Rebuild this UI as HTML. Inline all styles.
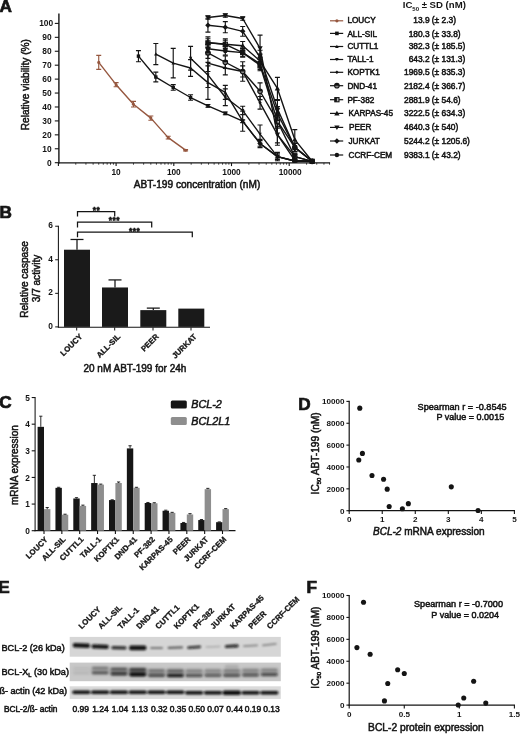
<!DOCTYPE html>
<html lang="en"><head><meta charset="utf-8"><title>ABT-199 sensitivity and BCL-2 expression in T-ALL cell lines</title>
<style>html,body{margin:0;padding:0;background:#fff}body{width:520px;height:734px;overflow:hidden}svg{display:block;font-family:"Liberation Sans", Arial, Helvetica, sans-serif}.pl{stroke:#141414;stroke-width:.7px}.rb{stroke:#141414;stroke-width:.3px}.tk{stroke:#141414;stroke-width:.28px}.ax{stroke:#141414;stroke-width:.5px}.lg{stroke:#141414;stroke-width:.5px}</style></head><body>
<svg width="520" height="734" viewBox="0 0 520 734">
<defs><filter id="blur" x="-5%" y="-50%" width="110%" height="200%"><feGaussianBlur stdDeviation="0.85"/></filter><filter id="blur2" x="-5%" y="-60%" width="110%" height="220%"><feGaussianBlur stdDeviation="1.6"/></filter></defs>
<rect width="520" height="734" fill="#fff"/>
<g id="panelA">
<text x="-0.5" y="12.4" font-size="17.2" text-anchor="start" font-weight="bold" fill="#141414" class="pl">A</text>
<line x1="58.9" y1="13.5" x2="58.9" y2="163.5" stroke="#141414" stroke-width="1.4" />
<line x1="58.2" y1="162.9" x2="330.1" y2="162.9" stroke="#141414" stroke-width="1.4" />
<line x1="54.8" y1="162.7" x2="58.9" y2="162.7" stroke="#141414" stroke-width="1.1" />
<text x="51.6" y="165.7" font-size="8.4" text-anchor="end" font-weight="bold" fill="#141414" >0</text>
<line x1="54.8" y1="148.77" x2="58.9" y2="148.77" stroke="#141414" stroke-width="1.1" />
<text x="51.6" y="151.77" font-size="8.4" text-anchor="end" font-weight="bold" fill="#141414" >10</text>
<line x1="54.8" y1="134.84" x2="58.9" y2="134.84" stroke="#141414" stroke-width="1.1" />
<text x="51.6" y="137.84" font-size="8.4" text-anchor="end" font-weight="bold" fill="#141414" >20</text>
<line x1="54.8" y1="120.91" x2="58.9" y2="120.91" stroke="#141414" stroke-width="1.1" />
<text x="51.6" y="123.91" font-size="8.4" text-anchor="end" font-weight="bold" fill="#141414" >30</text>
<line x1="54.8" y1="106.98" x2="58.9" y2="106.98" stroke="#141414" stroke-width="1.1" />
<text x="51.6" y="109.98" font-size="8.4" text-anchor="end" font-weight="bold" fill="#141414" >40</text>
<line x1="54.8" y1="93.05" x2="58.9" y2="93.05" stroke="#141414" stroke-width="1.1" />
<text x="51.6" y="96.05" font-size="8.4" text-anchor="end" font-weight="bold" fill="#141414" >50</text>
<line x1="54.8" y1="79.12" x2="58.9" y2="79.12" stroke="#141414" stroke-width="1.1" />
<text x="51.6" y="82.12" font-size="8.4" text-anchor="end" font-weight="bold" fill="#141414" >60</text>
<line x1="54.8" y1="65.19" x2="58.9" y2="65.19" stroke="#141414" stroke-width="1.1" />
<text x="51.6" y="68.19" font-size="8.4" text-anchor="end" font-weight="bold" fill="#141414" >70</text>
<line x1="54.8" y1="51.26" x2="58.9" y2="51.26" stroke="#141414" stroke-width="1.1" />
<text x="51.6" y="54.26" font-size="8.4" text-anchor="end" font-weight="bold" fill="#141414" >80</text>
<line x1="54.8" y1="37.33" x2="58.9" y2="37.33" stroke="#141414" stroke-width="1.1" />
<text x="51.6" y="40.33" font-size="8.4" text-anchor="end" font-weight="bold" fill="#141414" >90</text>
<line x1="54.8" y1="23.4" x2="58.9" y2="23.4" stroke="#141414" stroke-width="1.1" />
<text x="53.2" y="26.4" font-size="8.4" text-anchor="end" font-weight="bold" fill="#141414" >100</text>
<line x1="58.4" y1="162.9" x2="58.4" y2="166.1" stroke="#141414" stroke-width="1.1" />
<line x1="75.77" y1="162.9" x2="75.77" y2="164.7" stroke="#141414" stroke-width="0.8" />
<line x1="85.93" y1="162.9" x2="85.93" y2="164.7" stroke="#141414" stroke-width="0.8" />
<line x1="93.14" y1="162.9" x2="93.14" y2="164.7" stroke="#141414" stroke-width="0.8" />
<line x1="98.73" y1="162.9" x2="98.73" y2="164.7" stroke="#141414" stroke-width="0.8" />
<line x1="103.3" y1="162.9" x2="103.3" y2="164.7" stroke="#141414" stroke-width="0.8" />
<line x1="107.16" y1="162.9" x2="107.16" y2="164.7" stroke="#141414" stroke-width="0.8" />
<line x1="110.51" y1="162.9" x2="110.51" y2="164.7" stroke="#141414" stroke-width="0.8" />
<line x1="113.46" y1="162.9" x2="113.46" y2="164.7" stroke="#141414" stroke-width="0.8" />
<line x1="116.1" y1="162.9" x2="116.1" y2="166.1" stroke="#141414" stroke-width="1.1" />
<line x1="133.47" y1="162.9" x2="133.47" y2="164.7" stroke="#141414" stroke-width="0.8" />
<line x1="143.63" y1="162.9" x2="143.63" y2="164.7" stroke="#141414" stroke-width="0.8" />
<line x1="150.84" y1="162.9" x2="150.84" y2="164.7" stroke="#141414" stroke-width="0.8" />
<line x1="156.43" y1="162.9" x2="156.43" y2="164.7" stroke="#141414" stroke-width="0.8" />
<line x1="161" y1="162.9" x2="161" y2="164.7" stroke="#141414" stroke-width="0.8" />
<line x1="164.86" y1="162.9" x2="164.86" y2="164.7" stroke="#141414" stroke-width="0.8" />
<line x1="168.21" y1="162.9" x2="168.21" y2="164.7" stroke="#141414" stroke-width="0.8" />
<line x1="171.16" y1="162.9" x2="171.16" y2="164.7" stroke="#141414" stroke-width="0.8" />
<line x1="173.8" y1="162.9" x2="173.8" y2="166.1" stroke="#141414" stroke-width="1.1" />
<line x1="191.17" y1="162.9" x2="191.17" y2="164.7" stroke="#141414" stroke-width="0.8" />
<line x1="201.33" y1="162.9" x2="201.33" y2="164.7" stroke="#141414" stroke-width="0.8" />
<line x1="208.54" y1="162.9" x2="208.54" y2="164.7" stroke="#141414" stroke-width="0.8" />
<line x1="214.13" y1="162.9" x2="214.13" y2="164.7" stroke="#141414" stroke-width="0.8" />
<line x1="218.7" y1="162.9" x2="218.7" y2="164.7" stroke="#141414" stroke-width="0.8" />
<line x1="222.56" y1="162.9" x2="222.56" y2="164.7" stroke="#141414" stroke-width="0.8" />
<line x1="225.91" y1="162.9" x2="225.91" y2="164.7" stroke="#141414" stroke-width="0.8" />
<line x1="228.86" y1="162.9" x2="228.86" y2="164.7" stroke="#141414" stroke-width="0.8" />
<line x1="231.5" y1="162.9" x2="231.5" y2="166.1" stroke="#141414" stroke-width="1.1" />
<line x1="248.87" y1="162.9" x2="248.87" y2="164.7" stroke="#141414" stroke-width="0.8" />
<line x1="259.03" y1="162.9" x2="259.03" y2="164.7" stroke="#141414" stroke-width="0.8" />
<line x1="266.24" y1="162.9" x2="266.24" y2="164.7" stroke="#141414" stroke-width="0.8" />
<line x1="271.83" y1="162.9" x2="271.83" y2="164.7" stroke="#141414" stroke-width="0.8" />
<line x1="276.4" y1="162.9" x2="276.4" y2="164.7" stroke="#141414" stroke-width="0.8" />
<line x1="280.26" y1="162.9" x2="280.26" y2="164.7" stroke="#141414" stroke-width="0.8" />
<line x1="283.61" y1="162.9" x2="283.61" y2="164.7" stroke="#141414" stroke-width="0.8" />
<line x1="286.56" y1="162.9" x2="286.56" y2="164.7" stroke="#141414" stroke-width="0.8" />
<line x1="289.2" y1="162.9" x2="289.2" y2="166.1" stroke="#141414" stroke-width="1.1" />
<line x1="306.57" y1="162.9" x2="306.57" y2="164.7" stroke="#141414" stroke-width="0.8" />
<line x1="316.73" y1="162.9" x2="316.73" y2="164.7" stroke="#141414" stroke-width="0.8" />
<line x1="323.94" y1="162.9" x2="323.94" y2="164.7" stroke="#141414" stroke-width="0.8" />
<line x1="329.53" y1="162.9" x2="329.53" y2="164.7" stroke="#141414" stroke-width="0.8" />
<text x="116.1" y="175" font-size="8.3" text-anchor="middle" font-weight="bold" fill="#141414" >10</text>
<text x="173.8" y="175" font-size="8.3" text-anchor="middle" font-weight="bold" fill="#141414" >100</text>
<text x="231.5" y="175" font-size="8.3" text-anchor="middle" font-weight="bold" fill="#141414" >1000</text>
<text x="290.2" y="175" font-size="8.3" text-anchor="middle" font-weight="bold" fill="#141414" >10000</text>
<text x="197" y="187.8" font-size="10.15" text-anchor="middle" font-weight="normal" fill="#141414" class="ax">ABT-199 concentration (nM)</text>
<text transform="translate(28.7 84.7) rotate(-90)" font-size="10.15" text-anchor="middle" font-weight="normal" fill="#141414" class="ax">Relative viability (%)</text>
<path d="M98.73 55.44V69.37M96.23 55.44H101.23M96.23 69.37H101.23M116.1 82.6V86.78M113.6 82.6H118.6M113.6 86.78H118.6M133.47 101.41V106.98M130.97 101.41H135.97M130.97 106.98H135.97M150.84 116.03V120.21M148.34 116.03H153.34M148.34 120.21H153.34M168.21 136.23V139.02M165.71 136.23H170.71M165.71 139.02H170.71M185.58 149.47V150.86M183.08 149.47H188.08M183.08 150.86H188.08" stroke="#96573f" stroke-width="1.15" fill="none"/>
<polyline points="98.73,62.4 116.1,84.69 133.47,104.19 150.84,118.12 168.21,137.63 185.58,150.16" fill="none" stroke="#96573f" stroke-width="1.4" stroke-linejoin="round"/>
<circle cx="98.73" cy="62.4" r="1.53" fill="#96573f"/>
<circle cx="116.1" cy="84.69" r="1.53" fill="#96573f"/>
<circle cx="133.47" cy="104.19" r="1.53" fill="#96573f"/>
<circle cx="150.84" cy="118.12" r="1.53" fill="#96573f"/>
<circle cx="168.21" cy="137.63" r="1.53" fill="#96573f"/>
<circle cx="185.58" cy="150.16" r="1.53" fill="#96573f"/>
<path d="M138.45 50.56V61.71M135.95 50.56H140.95M135.95 61.71H140.95M155.82 72.15V81.91M153.32 72.15H158.32M153.32 81.91H158.32M173.22 84.69V90.26M170.72 84.69H175.72M170.72 90.26H175.72M190.57 94.72V100.29M188.07 94.72H193.07M188.07 100.29H193.07M207.94 104.47V107.26M205.44 104.47H210.44M205.44 107.26H210.44M225.31 111.99V114.78M222.81 111.99H227.81M222.81 114.78H227.81M242.68 119.8V122.58M240.18 119.8H245.18M240.18 122.58H245.18M260.05 140.69V146.26M257.55 140.69H262.55M257.55 146.26H262.55M277.42 155.18V157.96M274.92 155.18H279.92M274.92 157.96H279.92M294.79 160.33V161.72M292.29 160.33H297.29M292.29 161.72H297.29" stroke="#141414" stroke-width="1.15" fill="none"/>
<polyline points="138.45,56.14 155.82,77.03 173.22,87.48 190.57,97.51 207.94,105.87 225.31,113.39 242.68,121.19 260.05,143.48 277.42,156.57 294.79,161.03 312.16,161.31" fill="none" stroke="#141414" stroke-width="1.4" stroke-linejoin="round"/>
<rect x="136.74" y="54.43" width="3.42" height="3.42" fill="#141414"/>
<rect x="154.11" y="75.32" width="3.42" height="3.42" fill="#141414"/>
<rect x="171.51" y="85.77" width="3.42" height="3.42" fill="#141414"/>
<rect x="188.86" y="95.8" width="3.42" height="3.42" fill="#141414"/>
<rect x="206.23" y="104.16" width="3.42" height="3.42" fill="#141414"/>
<rect x="223.6" y="111.68" width="3.42" height="3.42" fill="#141414"/>
<rect x="240.97" y="119.48" width="3.42" height="3.42" fill="#141414"/>
<rect x="258.34" y="141.77" width="3.42" height="3.42" fill="#141414"/>
<rect x="275.71" y="154.86" width="3.42" height="3.42" fill="#141414"/>
<rect x="293.08" y="159.32" width="3.42" height="3.42" fill="#141414"/>
<rect x="310.45" y="159.6" width="3.42" height="3.42" fill="#141414"/>
<path d="M155.82 43.46V64.63M153.32 43.46H158.32M153.32 64.63H158.32M173.22 48.33V77.87M170.72 48.33H175.72M170.72 77.87H175.72M190.57 59.62V76.33M188.07 59.62H193.07M188.07 76.33H193.07M207.94 65.89V99.32M205.44 65.89H210.44M205.44 99.32H210.44M225.31 85.39V99.32M222.81 85.39H227.81M222.81 99.32H227.81M242.68 111.16V131.22M240.18 111.16H245.18M240.18 131.22H245.18M260.05 139.3V147.66M257.55 139.3H262.55M257.55 147.66H262.55M277.42 153.78V159.36M274.92 153.78H279.92M274.92 159.36H279.92M294.79 160.33V161.72M292.29 160.33H297.29M292.29 161.72H297.29" stroke="#141414" stroke-width="1.15" fill="none"/>
<polyline points="155.82,54.05 173.22,63.1 190.57,67.98 207.94,82.6 225.31,92.35 242.68,121.19 260.05,143.48 277.42,156.57 294.79,161.03 312.16,161.31" fill="none" stroke="#141414" stroke-width="1.4" stroke-linejoin="round"/>
<path d="M155.82 52.34L157.53 55.41L154.11 55.41Z" fill="#141414"/>
<path d="M173.22 61.39L174.93 64.47L171.51 64.47Z" fill="#141414"/>
<path d="M190.57 66.27L192.28 69.34L188.86 69.34Z" fill="#141414"/>
<path d="M207.94 80.89L209.65 83.97L206.23 83.97Z" fill="#141414"/>
<path d="M225.31 90.64L227.02 93.72L223.6 93.72Z" fill="#141414"/>
<path d="M242.68 119.48L244.39 122.56L240.97 122.56Z" fill="#141414"/>
<path d="M260.05 141.77L261.76 144.84L258.34 144.84Z" fill="#141414"/>
<path d="M277.42 154.86L279.13 157.94L275.71 157.94Z" fill="#141414"/>
<path d="M294.79 159.32L296.5 162.4L293.08 162.4Z" fill="#141414"/>
<path d="M312.16 159.6L313.87 162.67L310.45 162.67Z" fill="#141414"/>
<path d="M190.57 46.38V70.07M188.07 46.38H193.07M188.07 70.07H193.07M207.94 62.4V87.48M205.44 62.4H210.44M205.44 87.48H210.44M225.31 88.87V105.59M222.81 88.87H227.81M222.81 105.59H227.81M242.68 106.28V114.64M240.18 106.28H245.18M240.18 114.64H245.18M260.05 124.95V143.34M257.55 124.95H262.55M257.55 143.34H262.55M277.42 152.39V160.75M274.92 152.39H279.92M274.92 160.75H279.92M294.79 160.33V161.72M292.29 160.33H297.29M292.29 161.72H297.29" stroke="#141414" stroke-width="1.15" fill="none"/>
<polyline points="190.57,58.22 207.94,74.94 225.31,97.23 242.68,110.46 260.05,134.14 277.42,156.57 294.79,161.03 312.16,161.31" fill="none" stroke="#141414" stroke-width="1.4" stroke-linejoin="round"/>
<path d="M190.57 59.93L192.28 56.86L188.86 56.86Z" fill="#141414"/>
<path d="M207.94 76.65L209.65 73.57L206.23 73.57Z" fill="#141414"/>
<path d="M225.31 98.94L227.02 95.86L223.6 95.86Z" fill="#141414"/>
<path d="M242.68 112.17L244.39 109.09L240.97 109.09Z" fill="#141414"/>
<path d="M260.05 135.85L261.76 132.78L258.34 132.78Z" fill="#141414"/>
<path d="M277.42 158.28L279.13 155.2L275.71 155.2Z" fill="#141414"/>
<path d="M294.79 162.74L296.5 159.66L293.08 159.66Z" fill="#141414"/>
<path d="M312.16 163.02L313.87 159.94L310.45 159.94Z" fill="#141414"/>
<path d="M207.94 54.74V71.46M205.44 54.74H210.44M205.44 71.46H210.44M225.31 61.01V74.94M222.81 61.01H227.81M222.81 74.94H227.81M242.68 61.71V81.21M240.18 61.71H245.18M240.18 81.21H245.18M260.05 96.53V109.07M257.55 96.53H262.55M257.55 109.07H262.55M277.42 123.84V145.29M274.92 123.84H279.92M274.92 145.29H279.92M294.79 159.08V161.86M292.29 159.08H297.29M292.29 161.86H297.29" stroke="#141414" stroke-width="1.15" fill="none"/>
<polyline points="207.94,63.1 225.31,67.98 242.68,71.46 260.05,102.8 277.42,134.56 294.79,160.47 312.16,161.31" fill="none" stroke="#141414" stroke-width="1.4" stroke-linejoin="round"/>
<path d="M207.94 61.39L209.65 63.1L207.94 64.81L206.23 63.1Z" fill="#141414"/>
<path d="M225.31 66.27L227.02 67.98L225.31 69.69L223.6 67.98Z" fill="#141414"/>
<path d="M242.68 69.75L244.39 71.46L242.68 73.17L240.97 71.46Z" fill="#141414"/>
<path d="M260.05 101.09L261.76 102.8L260.05 104.51L258.34 102.8Z" fill="#141414"/>
<path d="M277.42 132.85L279.13 134.56L277.42 136.27L275.71 134.56Z" fill="#141414"/>
<path d="M294.79 158.76L296.5 160.47L294.79 162.18L293.08 160.47Z" fill="#141414"/>
<path d="M312.16 159.6L313.87 161.31L312.16 163.02L310.45 161.31Z" fill="#141414"/>
<path d="M207.94 47.22V58.36M205.44 47.22H210.44M205.44 58.36H210.44M225.31 56V68.53M222.81 56H227.81M222.81 68.53H227.81M242.68 65.89V77.03M240.18 65.89H245.18M240.18 77.03H245.18M260.05 82.88V99.6M257.55 82.88H262.55M257.55 99.6H262.55M277.42 114.22V128.15M274.92 114.22H279.92M274.92 128.15H279.92M294.79 143.2V151.56M292.29 143.2H297.29M292.29 151.56H297.29" stroke="#141414" stroke-width="1.15" fill="none"/>
<polyline points="207.94,52.79 225.31,62.26 242.68,71.46 260.05,91.24 277.42,121.19 294.79,147.38 312.16,161.31" fill="none" stroke="#141414" stroke-width="1.4" stroke-linejoin="round"/>
<circle cx="207.94" cy="52.79" r="2.28" fill="#8a8a8a" stroke="#141414" stroke-width="1.1"/>
<path d="M205.66 52.79A2.28 2.28 0 0 1 210.22 52.79Z" fill="#141414"/>
<circle cx="225.31" cy="62.26" r="2.28" fill="#8a8a8a" stroke="#141414" stroke-width="1.1"/>
<path d="M223.03 62.26A2.28 2.28 0 0 1 227.59 62.26Z" fill="#141414"/>
<circle cx="242.68" cy="71.46" r="2.28" fill="#8a8a8a" stroke="#141414" stroke-width="1.1"/>
<path d="M240.4 71.46A2.28 2.28 0 0 1 244.96 71.46Z" fill="#141414"/>
<circle cx="260.05" cy="91.24" r="2.28" fill="#8a8a8a" stroke="#141414" stroke-width="1.1"/>
<path d="M257.77 91.24A2.28 2.28 0 0 1 262.33 91.24Z" fill="#141414"/>
<circle cx="277.42" cy="121.19" r="2.28" fill="#8a8a8a" stroke="#141414" stroke-width="1.1"/>
<path d="M275.14 121.19A2.28 2.28 0 0 1 279.7 121.19Z" fill="#141414"/>
<circle cx="294.79" cy="147.38" r="2.28" fill="#8a8a8a" stroke="#141414" stroke-width="1.1"/>
<path d="M292.51 147.38A2.28 2.28 0 0 1 297.07 147.38Z" fill="#141414"/>
<circle cx="312.16" cy="161.31" r="2.28" fill="#8a8a8a" stroke="#141414" stroke-width="1.1"/>
<path d="M309.88 161.31A2.28 2.28 0 0 1 314.44 161.31Z" fill="#141414"/>
<path d="M207.94 38.72V47.08M205.44 38.72H210.44M205.44 47.08H210.44M225.31 40.12V48.47M222.81 40.12H227.81M222.81 48.47H227.81M242.68 48.47V56.83M240.18 48.47H245.18M240.18 56.83H245.18M260.05 59.62V70.76M257.55 59.62H262.55M257.55 70.76H262.55M277.42 115.62V126.76M274.92 115.62H279.92M274.92 126.76H279.92M294.79 153.78V159.36M292.29 153.78H297.29M292.29 159.36H297.29" stroke="#141414" stroke-width="1.15" fill="none"/>
<polyline points="207.94,42.9 225.31,44.29 242.68,52.65 260.05,65.19 277.42,121.19 294.79,156.57 312.16,161.31" fill="none" stroke="#141414" stroke-width="1.4" stroke-linejoin="round"/>
<rect x="205.85" y="40.81" width="4.18" height="4.18" fill="#b5b5b5" stroke="#141414" stroke-width="1.1"/>
<rect x="205.85" y="40.81" width="2.09" height="4.18" fill="#141414"/>
<rect x="223.22" y="42.2" width="4.18" height="4.18" fill="#b5b5b5" stroke="#141414" stroke-width="1.1"/>
<rect x="223.22" y="42.2" width="2.09" height="4.18" fill="#141414"/>
<rect x="240.59" y="50.56" width="4.18" height="4.18" fill="#b5b5b5" stroke="#141414" stroke-width="1.1"/>
<rect x="240.59" y="50.56" width="2.09" height="4.18" fill="#141414"/>
<rect x="257.96" y="63.1" width="4.18" height="4.18" fill="#b5b5b5" stroke="#141414" stroke-width="1.1"/>
<rect x="257.96" y="63.1" width="2.09" height="4.18" fill="#141414"/>
<rect x="275.33" y="119.1" width="4.18" height="4.18" fill="#b5b5b5" stroke="#141414" stroke-width="1.1"/>
<rect x="275.33" y="119.1" width="2.09" height="4.18" fill="#141414"/>
<rect x="292.7" y="154.48" width="4.18" height="4.18" fill="#b5b5b5" stroke="#141414" stroke-width="1.1"/>
<rect x="292.7" y="154.48" width="2.09" height="4.18" fill="#141414"/>
<rect x="310.07" y="159.22" width="4.18" height="4.18" fill="#b5b5b5" stroke="#141414" stroke-width="1.1"/>
<rect x="310.07" y="159.22" width="2.09" height="4.18" fill="#141414"/>
<path d="M207.94 36.91V48.06M205.44 36.91H210.44M205.44 48.06H210.44M225.31 38.72V49.87M222.81 38.72H227.81M222.81 49.87H227.81M242.68 41.51V49.87M240.18 41.51H245.18M240.18 49.87H245.18M260.05 54.05V67.98M257.55 54.05H262.55M257.55 67.98H262.55M277.42 77.31V99.6M274.92 77.31H279.92M274.92 99.6H279.92M294.79 129.55V149.61M292.29 129.55H297.29M292.29 149.61H297.29" stroke="#141414" stroke-width="1.15" fill="none"/>
<polyline points="207.94,42.48 225.31,44.29 242.68,45.69 260.05,61.01 277.42,88.45 294.79,139.58 312.16,161.31" fill="none" stroke="#141414" stroke-width="1.4" stroke-linejoin="round"/>
<path d="M207.94 39.82L210.6 44.48L205.28 44.48Z" fill="#141414"/>
<path d="M225.31 41.63L227.97 46.29L222.65 46.29Z" fill="#141414"/>
<path d="M242.68 43.03L245.34 47.68L240.02 47.68Z" fill="#141414"/>
<path d="M260.05 58.35L262.71 63.01L257.39 63.01Z" fill="#141414"/>
<path d="M277.42 85.79L280.08 90.45L274.76 90.45Z" fill="#141414"/>
<path d="M294.79 136.92L297.45 141.57L292.13 141.57Z" fill="#141414"/>
<path d="M312.16 158.65L314.82 163.3L309.5 163.3Z" fill="#141414"/>
<path d="M207.94 15.88V19.22M205.44 15.88H210.44M205.44 19.22H210.44M225.31 13.79V17.13M222.81 13.79H227.81M222.81 17.13H227.81M242.68 16.85V20.2M240.18 16.85H245.18M240.18 20.2H245.18M260.05 35.1V61.57M257.55 35.1H262.55M257.55 61.57H262.55M277.42 126.2V142.92M274.92 126.2H279.92M274.92 142.92H279.92M294.79 153.78V159.36M292.29 153.78H297.29M292.29 159.36H297.29" stroke="#141414" stroke-width="1.15" fill="none"/>
<polyline points="207.94,17.55 225.31,15.46 242.68,18.52 260.05,48.33 277.42,134.56 294.79,156.57 312.16,161.31" fill="none" stroke="#141414" stroke-width="1.4" stroke-linejoin="round"/>
<path d="M207.94 20.21L210.6 15.55L205.28 15.55Z" fill="#141414"/>
<path d="M225.31 18.12L227.97 13.46L222.65 13.46Z" fill="#141414"/>
<path d="M242.68 21.18L245.34 16.53L240.02 16.53Z" fill="#141414"/>
<path d="M260.05 50.99L262.71 46.34L257.39 46.34Z" fill="#141414"/>
<path d="M277.42 137.22L280.08 132.57L274.76 132.57Z" fill="#141414"/>
<path d="M294.79 159.23L297.45 154.58L292.13 154.58Z" fill="#141414"/>
<path d="M312.16 163.97L314.82 159.31L309.5 159.31Z" fill="#141414"/>
<path d="M207.94 18.25V32.18M205.44 18.25H210.44M205.44 32.18H210.44M225.31 21.59V32.73M222.81 21.59H227.81M222.81 32.73H227.81M242.68 26.46V36.22M240.18 26.46H245.18M240.18 36.22H245.18M260.05 50.28V64.21M257.55 50.28H262.55M257.55 64.21H262.55M277.42 100.43V117.15M274.92 100.43H279.92M274.92 117.15H279.92M294.79 143.2V151.56M292.29 143.2H297.29M292.29 151.56H297.29" stroke="#141414" stroke-width="1.15" fill="none"/>
<polyline points="207.94,25.21 225.31,27.16 242.68,31.34 260.05,57.25 277.42,108.79 294.79,147.38 312.16,161.31" fill="none" stroke="#141414" stroke-width="1.4" stroke-linejoin="round"/>
<path d="M207.94 22.46L210.7 25.21L207.94 27.97L205.19 25.21Z" fill="#141414"/>
<path d="M225.31 24.41L228.07 27.16L225.31 29.92L222.56 27.16Z" fill="#141414"/>
<path d="M242.68 28.59L245.44 31.34L242.68 34.1L239.93 31.34Z" fill="#141414"/>
<path d="M260.05 54.49L262.81 57.25L260.05 60L257.3 57.25Z" fill="#141414"/>
<path d="M277.42 106.04L280.18 108.79L277.42 111.55L274.67 108.79Z" fill="#141414"/>
<path d="M294.79 144.62L297.55 147.38L294.79 150.13L292.04 147.38Z" fill="#141414"/>
<path d="M312.16 158.55L314.92 161.31L312.16 164.06L309.41 161.31Z" fill="#141414"/>
<path d="M207.94 44.57V52.93M205.44 44.57H210.44M205.44 52.93H210.44M225.31 46.8V55.16M222.81 46.8H227.81M222.81 55.16H227.81M242.68 48.47V56.83M240.18 48.47H245.18M240.18 56.83H245.18M260.05 58.22V69.37M257.55 58.22H262.55M257.55 69.37H262.55M277.42 106.56V120.49M274.92 106.56H279.92M274.92 120.49H279.92M294.79 143.2V151.56M292.29 143.2H297.29M292.29 151.56H297.29" stroke="#141414" stroke-width="1.15" fill="none"/>
<polyline points="207.94,48.75 225.31,50.98 242.68,52.65 260.05,63.8 277.42,113.53 294.79,147.38 312.16,161.31" fill="none" stroke="#141414" stroke-width="1.4" stroke-linejoin="round"/>
<circle cx="207.94" cy="48.75" r="2.18" fill="#141414"/>
<circle cx="225.31" cy="50.98" r="2.18" fill="#141414"/>
<circle cx="242.68" cy="52.65" r="2.18" fill="#141414"/>
<circle cx="260.05" cy="63.8" r="2.18" fill="#141414"/>
<circle cx="277.42" cy="113.53" r="2.18" fill="#141414"/>
<circle cx="294.79" cy="147.38" r="2.18" fill="#141414"/>
<circle cx="312.16" cy="161.31" r="2.18" fill="#141414"/>
<text x="434.3" y="8.4" font-size="9.6" text-anchor="middle" font-weight="bold" fill="#141414" >IC<tspan font-size="6" dy="2.2">50</tspan><tspan dy="-2.2"> ± SD (nM)</tspan></text>
<line x1="330" y1="20.8" x2="343.2" y2="20.8" stroke="#96573f" stroke-width="1.2" />
<circle cx="336.9" cy="20.8" r="1.61" fill="#96573f"/>
<text x="347.4" y="23" font-size="8.2" text-anchor="start" font-weight="normal" fill="#141414" class="lg">LOUCY</text>
<text x="429.6" y="23" font-size="8.4" text-anchor="end" font-weight="normal" fill="#141414" class="lg">13.9</text>
<text x="431.8" y="23" font-size="8.4" text-anchor="start" font-weight="normal" fill="#141414" class="lg">(± 2.3)</text>
<line x1="330" y1="33.4" x2="343.2" y2="33.4" stroke="#141414" stroke-width="1.2" />
<rect x="335.09" y="31.59" width="3.61" height="3.61" fill="#141414"/>
<text x="347.4" y="36.6" font-size="8.2" text-anchor="start" font-weight="normal" fill="#141414" class="lg">ALL-SIL</text>
<text x="429.6" y="36.6" font-size="8.4" text-anchor="end" font-weight="normal" fill="#141414" class="lg">180.3</text>
<text x="431.8" y="36.6" font-size="8.4" text-anchor="start" font-weight="normal" fill="#141414" class="lg">(± 33.8)</text>
<line x1="330" y1="46.5" x2="343.2" y2="46.5" stroke="#141414" stroke-width="1.2" />
<path d="M336.9 44.7L338.7 47.94L335.09 47.94Z" fill="#141414"/>
<text x="347.4" y="49.4" font-size="8.2" text-anchor="start" font-weight="normal" fill="#141414" class="lg">CUTTL1</text>
<text x="429.6" y="49.4" font-size="8.4" text-anchor="end" font-weight="normal" fill="#141414" class="lg">382.3</text>
<text x="431.8" y="49.4" font-size="8.4" text-anchor="start" font-weight="normal" fill="#141414" class="lg">(± 185.5)</text>
<line x1="330" y1="59.5" x2="343.2" y2="59.5" stroke="#141414" stroke-width="1.2" />
<path d="M336.9 61.3L338.7 58.06L335.09 58.06Z" fill="#141414"/>
<text x="347.4" y="62.4" font-size="8.2" text-anchor="start" font-weight="normal" fill="#141414" class="lg">TALL-1</text>
<text x="429.6" y="62.4" font-size="8.4" text-anchor="end" font-weight="normal" fill="#141414" class="lg">643.2</text>
<text x="431.8" y="62.4" font-size="8.4" text-anchor="start" font-weight="normal" fill="#141414" class="lg">(± 131.3)</text>
<line x1="330" y1="72.3" x2="343.2" y2="72.3" stroke="#141414" stroke-width="1.2" />
<path d="M336.9 70.49L338.7 72.3L336.9 74.11L335.09 72.3Z" fill="#141414"/>
<text x="347.4" y="75.2" font-size="8.2" text-anchor="start" font-weight="normal" fill="#141414" class="lg">KOPTK1</text>
<text x="429.6" y="75.2" font-size="8.4" text-anchor="end" font-weight="normal" fill="#141414" class="lg">1969.5</text>
<text x="431.8" y="75.2" font-size="8.4" text-anchor="start" font-weight="normal" fill="#141414" class="lg">(± 835.3)</text>
<line x1="330" y1="85.7" x2="343.2" y2="85.7" stroke="#141414" stroke-width="1.2" />
<circle cx="336.9" cy="85.7" r="2.28" fill="#8a8a8a" stroke="#141414" stroke-width="1.1"/>
<path d="M334.62 85.7A2.28 2.28 0 0 1 339.18 85.7Z" fill="#141414"/>
<text x="347.4" y="88.6" font-size="8.2" text-anchor="start" font-weight="normal" fill="#141414" class="lg">DND-41</text>
<text x="429.6" y="88.6" font-size="8.4" text-anchor="end" font-weight="normal" fill="#141414" class="lg">2182.4</text>
<text x="431.8" y="88.6" font-size="8.4" text-anchor="start" font-weight="normal" fill="#141414" class="lg">(± 366.7)</text>
<line x1="330" y1="99.7" x2="343.2" y2="99.7" stroke="#141414" stroke-width="1.2" />
<rect x="334.81" y="97.61" width="4.18" height="4.18" fill="#b5b5b5" stroke="#141414" stroke-width="1.1"/>
<rect x="334.81" y="97.61" width="2.09" height="4.18" fill="#141414"/>
<text x="347.4" y="102.6" font-size="8.2" text-anchor="start" font-weight="normal" fill="#141414" class="lg">PF-382</text>
<text x="429.6" y="102.6" font-size="8.4" text-anchor="end" font-weight="normal" fill="#141414" class="lg">2881.9</text>
<text x="431.8" y="102.6" font-size="8.4" text-anchor="start" font-weight="normal" fill="#141414" class="lg">(± 54.6)</text>
<line x1="330" y1="113.4" x2="343.2" y2="113.4" stroke="#141414" stroke-width="1.2" />
<path d="M336.9 110.74L339.56 115.4L334.24 115.4Z" fill="#141414"/>
<text x="348.5" y="116.3" font-size="8.2" text-anchor="start" font-weight="normal" fill="#141414" class="lg">KARPAS-45</text>
<text x="429.6" y="116.3" font-size="8.4" text-anchor="end" font-weight="normal" fill="#141414" class="lg">3222.5</text>
<text x="431.8" y="116.3" font-size="8.4" text-anchor="start" font-weight="normal" fill="#141414" class="lg">(± 634.3)</text>
<line x1="330" y1="127.4" x2="343.2" y2="127.4" stroke="#141414" stroke-width="1.2" />
<path d="M336.9 130.06L339.56 125.41L334.24 125.41Z" fill="#141414"/>
<text x="349" y="130.3" font-size="8.2" text-anchor="start" font-weight="normal" fill="#141414" class="lg">PEER</text>
<text x="429.6" y="130.3" font-size="8.4" text-anchor="end" font-weight="normal" fill="#141414" class="lg">4640.3</text>
<text x="431.8" y="130.3" font-size="8.4" text-anchor="start" font-weight="normal" fill="#141414" class="lg">(± 540)</text>
<line x1="330" y1="141" x2="343.2" y2="141" stroke="#141414" stroke-width="1.2" />
<path d="M336.9 138.25L339.65 141L336.9 143.75L334.14 141Z" fill="#141414"/>
<text x="348.5" y="143.9" font-size="8.2" text-anchor="start" font-weight="normal" fill="#141414" class="lg">JURKAT</text>
<text x="429.6" y="143.9" font-size="8.4" text-anchor="end" font-weight="normal" fill="#141414" class="lg">5244.2</text>
<text x="431.8" y="143.9" font-size="8.4" text-anchor="start" font-weight="normal" fill="#141414" class="lg">(± 1205.6)</text>
<line x1="330" y1="155" x2="343.2" y2="155" stroke="#141414" stroke-width="1.2" />
<circle cx="336.9" cy="155" r="2.18" fill="#141414"/>
<text x="348.5" y="157.9" font-size="8.2" text-anchor="start" font-weight="normal" fill="#141414" class="lg">CCRF-CEM</text>
<text x="429.6" y="157.9" font-size="8.4" text-anchor="end" font-weight="normal" fill="#141414" class="lg">9383.1</text>
<text x="431.8" y="157.9" font-size="8.4" text-anchor="start" font-weight="normal" fill="#141414" class="lg">(± 43.2)</text>
</g>
<g id="panelB">
<text x="-0.4" y="218.4" font-size="17.2" text-anchor="start" font-weight="bold" fill="#141414" class="pl">B</text>
<line x1="58.4" y1="225.72" x2="58.4" y2="327.4" stroke="#141414" stroke-width="1.05" />
<line x1="57.9" y1="327.2" x2="210" y2="327.2" stroke="#141414" stroke-width="1.05" />
<line x1="55.2" y1="326.9" x2="58.4" y2="326.9" stroke="#141414" stroke-width="1" />
<text x="53" y="328.9" font-size="8.4" text-anchor="end" font-weight="bold" fill="#141414" >0</text>
<line x1="55.2" y1="293.34" x2="58.4" y2="293.34" stroke="#141414" stroke-width="1" />
<text x="53" y="295.34" font-size="8.4" text-anchor="end" font-weight="bold" fill="#141414" >2</text>
<line x1="55.2" y1="259.78" x2="58.4" y2="259.78" stroke="#141414" stroke-width="1" />
<text x="53" y="261.78" font-size="8.4" text-anchor="end" font-weight="bold" fill="#141414" >4</text>
<line x1="55.2" y1="226.22" x2="58.4" y2="226.22" stroke="#141414" stroke-width="1" />
<text x="53" y="228.22" font-size="8.4" text-anchor="end" font-weight="bold" fill="#141414" >6</text>
<rect x="64" y="249.71" width="26" height="77.19" fill="#1a1a1a"/>
<line x1="77" y1="249.71" x2="77" y2="239.48" stroke="#141414" stroke-width="1.25" />
<line x1="70.5" y1="239.48" x2="83.5" y2="239.48" stroke="#141414" stroke-width="1.25" />
<line x1="76.7" y1="327.4" x2="76.7" y2="330.5" stroke="#141414" stroke-width="1" />
<text transform="translate(82.9 337.1) rotate(-45)" font-size="7.8" text-anchor="end" font-weight="bold" fill="#141414" class="rb">LOUCY</text>
<rect x="102" y="287.47" width="26" height="39.43" fill="#1a1a1a"/>
<line x1="115" y1="287.47" x2="115" y2="279.92" stroke="#141414" stroke-width="1.25" />
<line x1="108.5" y1="279.92" x2="121.5" y2="279.92" stroke="#141414" stroke-width="1.25" />
<line x1="114.7" y1="327.4" x2="114.7" y2="330.5" stroke="#141414" stroke-width="1" />
<text transform="translate(120.9 337.1) rotate(-45)" font-size="7.8" text-anchor="end" font-weight="bold" fill="#141414" class="rb">ALL-SIL</text>
<rect x="140.3" y="310.12" width="26" height="16.78" fill="#1a1a1a"/>
<line x1="153.3" y1="310.12" x2="153.3" y2="308.11" stroke="#141414" stroke-width="1.25" />
<line x1="146.8" y1="308.11" x2="159.8" y2="308.11" stroke="#141414" stroke-width="1.25" />
<line x1="153" y1="327.4" x2="153" y2="330.5" stroke="#141414" stroke-width="1" />
<text transform="translate(159.2 337.1) rotate(-45)" font-size="7.8" text-anchor="end" font-weight="bold" fill="#141414" class="rb">PEER</text>
<rect x="178.3" y="308.61" width="26" height="18.29" fill="#1a1a1a"/>
<line x1="191" y1="327.4" x2="191" y2="330.5" stroke="#141414" stroke-width="1" />
<text transform="translate(197.2 337.1) rotate(-45)" font-size="7.8" text-anchor="end" font-weight="bold" fill="#141414" class="rb">JURKAT</text>
<path d="M77.5 216.6V211.6H114.7V216.6" fill="none" stroke="#141414" stroke-width="1.25"/>
<text x="96.55" y="212.6" font-size="8.4" text-anchor="middle" font-weight="bold" fill="#141414" stroke="#141414" stroke-width="0.55" letter-spacing="0.5">**</text>
<path d="M77.5 227.4V222.2H151.7V227.4" fill="none" stroke="#141414" stroke-width="1.25"/>
<text x="114.35" y="223.2" font-size="8.4" text-anchor="middle" font-weight="bold" fill="#141414" stroke="#141414" stroke-width="0.55" letter-spacing="0.5">***</text>
<path d="M77.5 237.2V232.2H192.3V237.2" fill="none" stroke="#141414" stroke-width="1.25"/>
<text x="134.65" y="233.5" font-size="8.4" text-anchor="middle" font-weight="bold" fill="#141414" stroke="#141414" stroke-width="0.55" letter-spacing="0.5">***</text>
<text x="134.9" y="372.3" font-size="10" text-anchor="middle" font-weight="normal" fill="#141414" class="ax">20 nM ABT-199 for 24h</text>
<text transform="translate(27.9 279.5) rotate(-90)" font-size="10.05" text-anchor="middle" font-weight="normal" fill="#141414" class="ax">Relative caspase</text>
<text transform="translate(40.3 278.5) rotate(-90)" font-size="10.05" text-anchor="middle" font-weight="normal" fill="#141414" class="ax">3/7 activity</text>
</g>
<g id="panelC">
<text x="-0.8" y="407.6" font-size="17.2" text-anchor="start" font-weight="bold" fill="#141414" class="pl">C</text>
<line x1="35.1" y1="397.05" x2="35.1" y2="531.3" stroke="#141414" stroke-width="1.05" />
<line x1="34.6" y1="530.7" x2="235.5" y2="530.7" stroke="#141414" stroke-width="1.3" />
<line x1="31.7" y1="530.7" x2="35.1" y2="530.7" stroke="#141414" stroke-width="1.1" />
<text x="29.8" y="533.9" font-size="8.3" text-anchor="end" font-weight="bold" fill="#141414" >0</text>
<line x1="31.7" y1="504.07" x2="35.1" y2="504.07" stroke="#141414" stroke-width="1.1" />
<text x="29.8" y="507.27" font-size="8.3" text-anchor="end" font-weight="bold" fill="#141414" >1</text>
<line x1="31.7" y1="477.44" x2="35.1" y2="477.44" stroke="#141414" stroke-width="1.1" />
<text x="29.8" y="480.64" font-size="8.3" text-anchor="end" font-weight="bold" fill="#141414" >2</text>
<line x1="31.7" y1="450.81" x2="35.1" y2="450.81" stroke="#141414" stroke-width="1.1" />
<text x="29.8" y="454.01" font-size="8.3" text-anchor="end" font-weight="bold" fill="#141414" >3</text>
<line x1="31.7" y1="424.18" x2="35.1" y2="424.18" stroke="#141414" stroke-width="1.1" />
<text x="29.8" y="427.38" font-size="8.3" text-anchor="end" font-weight="bold" fill="#141414" >4</text>
<line x1="31.7" y1="397.55" x2="35.1" y2="397.55" stroke="#141414" stroke-width="1.1" />
<text x="29.8" y="400.75" font-size="8.3" text-anchor="end" font-weight="bold" fill="#141414" >5</text>
<rect x="37.6" y="426.84" width="6.4" height="103.86" fill="#161616"/>
<rect x="44" y="509.13" width="6.4" height="21.57" fill="#8e8e8e"/>
<line x1="40.8" y1="426.84" x2="40.8" y2="416.19" stroke="#141414" stroke-width="0.9" />
<line x1="39.2" y1="416.19" x2="42.4" y2="416.19" stroke="#141414" stroke-width="0.9" />
<line x1="47.2" y1="509.13" x2="47.2" y2="507.53" stroke="#141414" stroke-width="0.9" />
<line x1="45.6" y1="507.53" x2="48.8" y2="507.53" stroke="#141414" stroke-width="0.9" />
<line x1="44" y1="530.7" x2="44" y2="534" stroke="#141414" stroke-width="1.1" />
<text transform="translate(48.3 540) rotate(-45)" font-size="7.8" text-anchor="end" font-weight="bold" fill="#141414" class="rb">LOUCY</text>
<rect x="55.45" y="487.83" width="6.4" height="42.87" fill="#161616"/>
<rect x="61.85" y="514.72" width="6.4" height="15.98" fill="#8e8e8e"/>
<line x1="58.65" y1="487.83" x2="58.65" y2="487.29" stroke="#141414" stroke-width="0.9" />
<line x1="57.05" y1="487.29" x2="60.25" y2="487.29" stroke="#141414" stroke-width="0.9" />
<line x1="65.05" y1="514.72" x2="65.05" y2="514.19" stroke="#141414" stroke-width="0.9" />
<line x1="63.45" y1="514.19" x2="66.65" y2="514.19" stroke="#141414" stroke-width="0.9" />
<line x1="61.85" y1="530.7" x2="61.85" y2="534" stroke="#141414" stroke-width="1.1" />
<text transform="translate(66.15 540) rotate(-45)" font-size="7.8" text-anchor="end" font-weight="bold" fill="#141414" class="rb">ALL-SIL</text>
<rect x="73.3" y="498.48" width="6.4" height="32.22" fill="#161616"/>
<rect x="79.7" y="505.93" width="6.4" height="24.77" fill="#8e8e8e"/>
<line x1="76.5" y1="498.48" x2="76.5" y2="497.68" stroke="#141414" stroke-width="0.9" />
<line x1="74.9" y1="497.68" x2="78.1" y2="497.68" stroke="#141414" stroke-width="0.9" />
<line x1="82.9" y1="505.93" x2="82.9" y2="505.14" stroke="#141414" stroke-width="0.9" />
<line x1="81.3" y1="505.14" x2="84.5" y2="505.14" stroke="#141414" stroke-width="0.9" />
<line x1="79.7" y1="530.7" x2="79.7" y2="534" stroke="#141414" stroke-width="1.1" />
<text transform="translate(84 540) rotate(-45)" font-size="7.8" text-anchor="end" font-weight="bold" fill="#141414" class="rb">CUTTL1</text>
<rect x="91.15" y="483.03" width="6.4" height="47.67" fill="#161616"/>
<rect x="97.55" y="484.63" width="6.4" height="46.07" fill="#8e8e8e"/>
<line x1="94.35" y1="483.03" x2="94.35" y2="475.31" stroke="#141414" stroke-width="0.9" />
<line x1="92.75" y1="475.31" x2="95.95" y2="475.31" stroke="#141414" stroke-width="0.9" />
<line x1="100.75" y1="484.63" x2="100.75" y2="484.1" stroke="#141414" stroke-width="0.9" />
<line x1="99.15" y1="484.1" x2="102.35" y2="484.1" stroke="#141414" stroke-width="0.9" />
<line x1="97.55" y1="530.7" x2="97.55" y2="534" stroke="#141414" stroke-width="1.1" />
<text transform="translate(101.85 540) rotate(-45)" font-size="7.8" text-anchor="end" font-weight="bold" fill="#141414" class="rb">TALL-1</text>
<rect x="109" y="500.08" width="6.4" height="30.62" fill="#161616"/>
<rect x="115.4" y="483.03" width="6.4" height="47.67" fill="#8e8e8e"/>
<line x1="112.2" y1="500.08" x2="112.2" y2="499.81" stroke="#141414" stroke-width="0.9" />
<line x1="110.6" y1="499.81" x2="113.8" y2="499.81" stroke="#141414" stroke-width="0.9" />
<line x1="118.6" y1="483.03" x2="118.6" y2="481.97" stroke="#141414" stroke-width="0.9" />
<line x1="117" y1="481.97" x2="120.2" y2="481.97" stroke="#141414" stroke-width="0.9" />
<line x1="115.4" y1="530.7" x2="115.4" y2="534" stroke="#141414" stroke-width="1.1" />
<text transform="translate(119.7 540) rotate(-45)" font-size="7.8" text-anchor="end" font-weight="bold" fill="#141414" class="rb">KOPTK1</text>
<rect x="126.85" y="448.41" width="6.4" height="82.29" fill="#161616"/>
<rect x="133.25" y="487.83" width="6.4" height="42.87" fill="#8e8e8e"/>
<line x1="130.05" y1="448.41" x2="130.05" y2="445.75" stroke="#141414" stroke-width="0.9" />
<line x1="128.45" y1="445.75" x2="131.65" y2="445.75" stroke="#141414" stroke-width="0.9" />
<line x1="136.45" y1="487.83" x2="136.45" y2="487.29" stroke="#141414" stroke-width="0.9" />
<line x1="134.85" y1="487.29" x2="138.05" y2="487.29" stroke="#141414" stroke-width="0.9" />
<line x1="133.25" y1="530.7" x2="133.25" y2="534" stroke="#141414" stroke-width="1.1" />
<text transform="translate(137.55 540) rotate(-45)" font-size="7.8" text-anchor="end" font-weight="bold" fill="#141414" class="rb">DND-41</text>
<rect x="144.7" y="503" width="6.4" height="27.7" fill="#161616"/>
<rect x="151.1" y="503.27" width="6.4" height="27.43" fill="#8e8e8e"/>
<line x1="147.9" y1="503" x2="147.9" y2="502.47" stroke="#141414" stroke-width="0.9" />
<line x1="146.3" y1="502.47" x2="149.5" y2="502.47" stroke="#141414" stroke-width="0.9" />
<line x1="154.3" y1="503.27" x2="154.3" y2="502.74" stroke="#141414" stroke-width="0.9" />
<line x1="152.7" y1="502.74" x2="155.9" y2="502.74" stroke="#141414" stroke-width="0.9" />
<line x1="151.1" y1="530.7" x2="151.1" y2="534" stroke="#141414" stroke-width="1.1" />
<text transform="translate(155.4 540) rotate(-45)" font-size="7.8" text-anchor="end" font-weight="bold" fill="#141414" class="rb">PF-382</text>
<rect x="162.55" y="510.73" width="6.4" height="19.97" fill="#161616"/>
<rect x="168.95" y="512.86" width="6.4" height="17.84" fill="#8e8e8e"/>
<line x1="165.75" y1="510.73" x2="165.75" y2="510.19" stroke="#141414" stroke-width="0.9" />
<line x1="164.15" y1="510.19" x2="167.35" y2="510.19" stroke="#141414" stroke-width="0.9" />
<line x1="172.15" y1="512.86" x2="172.15" y2="512.33" stroke="#141414" stroke-width="0.9" />
<line x1="170.55" y1="512.33" x2="173.75" y2="512.33" stroke="#141414" stroke-width="0.9" />
<line x1="168.95" y1="530.7" x2="168.95" y2="534" stroke="#141414" stroke-width="1.1" />
<text transform="translate(173.25 540) rotate(-45)" font-size="7.8" text-anchor="end" font-weight="bold" fill="#141414" class="rb">KARPAS-45</text>
<rect x="180.4" y="522.98" width="6.4" height="7.72" fill="#161616"/>
<rect x="186.8" y="514.46" width="6.4" height="16.24" fill="#8e8e8e"/>
<line x1="183.6" y1="522.98" x2="183.6" y2="522.44" stroke="#141414" stroke-width="0.9" />
<line x1="182" y1="522.44" x2="185.2" y2="522.44" stroke="#141414" stroke-width="0.9" />
<line x1="190" y1="514.46" x2="190" y2="513.66" stroke="#141414" stroke-width="0.9" />
<line x1="188.4" y1="513.66" x2="191.6" y2="513.66" stroke="#141414" stroke-width="0.9" />
<line x1="186.8" y1="530.7" x2="186.8" y2="534" stroke="#141414" stroke-width="1.1" />
<text transform="translate(191.1 540) rotate(-45)" font-size="7.8" text-anchor="end" font-weight="bold" fill="#141414" class="rb">PEER</text>
<rect x="198.25" y="520.05" width="6.4" height="10.65" fill="#161616"/>
<rect x="204.65" y="489.16" width="6.4" height="41.54" fill="#8e8e8e"/>
<line x1="201.45" y1="520.05" x2="201.45" y2="519.52" stroke="#141414" stroke-width="0.9" />
<line x1="199.85" y1="519.52" x2="203.05" y2="519.52" stroke="#141414" stroke-width="0.9" />
<line x1="207.85" y1="489.16" x2="207.85" y2="488.36" stroke="#141414" stroke-width="0.9" />
<line x1="206.25" y1="488.36" x2="209.45" y2="488.36" stroke="#141414" stroke-width="0.9" />
<line x1="204.65" y1="530.7" x2="204.65" y2="534" stroke="#141414" stroke-width="1.1" />
<text transform="translate(208.95 540) rotate(-45)" font-size="7.8" text-anchor="end" font-weight="bold" fill="#141414" class="rb">JURKAT</text>
<rect x="216.1" y="522.18" width="6.4" height="8.52" fill="#161616"/>
<rect x="222.5" y="509.13" width="6.4" height="21.57" fill="#8e8e8e"/>
<line x1="219.3" y1="522.18" x2="219.3" y2="521.91" stroke="#141414" stroke-width="0.9" />
<line x1="217.7" y1="521.91" x2="220.9" y2="521.91" stroke="#141414" stroke-width="0.9" />
<line x1="225.7" y1="509.13" x2="225.7" y2="508.6" stroke="#141414" stroke-width="0.9" />
<line x1="224.1" y1="508.6" x2="227.3" y2="508.6" stroke="#141414" stroke-width="0.9" />
<line x1="222.5" y1="530.7" x2="222.5" y2="534" stroke="#141414" stroke-width="1.1" />
<text transform="translate(226.8 540) rotate(-45)" font-size="7.8" text-anchor="end" font-weight="bold" fill="#141414" class="rb">CCRF-CEM</text>
<rect x="170.8" y="400.6" width="16" height="8" rx="1.5" fill="#161616"/>
<rect x="170.8" y="417.1" width="16" height="8" rx="1.5" fill="#8e8e8e"/>
<text x="191.2" y="408.3" font-size="10.8" text-anchor="start" font-weight="normal" fill="#141414" font-style="italic" class="lg">BCL-2</text>
<text x="191.2" y="425.3" font-size="10.8" text-anchor="start" font-weight="normal" fill="#141414" font-style="italic" class="lg">BCL2L1</text>
<text transform="translate(17.6 465.1) rotate(-90)" font-size="10" text-anchor="middle" font-weight="normal" fill="#141414" class="ax">mRNA expression</text>
</g>
<g id="panelD">
<text x="298.3" y="409.9" font-size="17.2" text-anchor="start" font-weight="bold" fill="#141414" class="pl">D</text>
<line x1="349.2" y1="400.8" x2="349.2" y2="511.3" stroke="#141414" stroke-width="1.2" />
<line x1="348.6" y1="510.7" x2="515" y2="510.7" stroke="#141414" stroke-width="1.2" />
<line x1="346.4" y1="510.7" x2="349.2" y2="510.7" stroke="#141414" stroke-width="1.1" />
<text x="344.6" y="513.5" font-size="8.1" text-anchor="end" font-weight="bold" fill="#141414" >0</text>
<line x1="346.4" y1="488.84" x2="349.2" y2="488.84" stroke="#141414" stroke-width="1.1" />
<text x="344.6" y="491.64" font-size="8.1" text-anchor="end" font-weight="bold" fill="#141414" >2000</text>
<line x1="346.4" y1="466.98" x2="349.2" y2="466.98" stroke="#141414" stroke-width="1.1" />
<text x="344.6" y="469.78" font-size="8.1" text-anchor="end" font-weight="bold" fill="#141414" >4000</text>
<line x1="346.4" y1="445.12" x2="349.2" y2="445.12" stroke="#141414" stroke-width="1.1" />
<text x="344.6" y="447.92" font-size="8.1" text-anchor="end" font-weight="bold" fill="#141414" >6000</text>
<line x1="346.4" y1="423.26" x2="349.2" y2="423.26" stroke="#141414" stroke-width="1.1" />
<text x="344.6" y="426.06" font-size="8.1" text-anchor="end" font-weight="bold" fill="#141414" >8000</text>
<line x1="346.4" y1="401.4" x2="349.2" y2="401.4" stroke="#141414" stroke-width="1.1" />
<text x="344.6" y="404.2" font-size="8.1" text-anchor="end" font-weight="bold" fill="#141414" >10000</text>
<line x1="349.2" y1="510.7" x2="349.2" y2="514" stroke="#141414" stroke-width="1.1" />
<text x="349.2" y="522.2" font-size="8.1" text-anchor="middle" font-weight="bold" fill="#141414" >0</text>
<line x1="382.24" y1="510.7" x2="382.24" y2="514" stroke="#141414" stroke-width="1.1" />
<text x="382.24" y="522.2" font-size="8.1" text-anchor="middle" font-weight="bold" fill="#141414" >1</text>
<line x1="415.28" y1="510.7" x2="415.28" y2="514" stroke="#141414" stroke-width="1.1" />
<text x="415.28" y="522.2" font-size="8.1" text-anchor="middle" font-weight="bold" fill="#141414" >2</text>
<line x1="448.32" y1="510.7" x2="448.32" y2="514" stroke="#141414" stroke-width="1.1" />
<text x="448.32" y="522.2" font-size="8.1" text-anchor="middle" font-weight="bold" fill="#141414" >3</text>
<line x1="481.36" y1="510.7" x2="481.36" y2="514" stroke="#141414" stroke-width="1.1" />
<text x="481.36" y="522.2" font-size="8.1" text-anchor="middle" font-weight="bold" fill="#141414" >4</text>
<line x1="514.4" y1="510.7" x2="514.4" y2="514" stroke="#141414" stroke-width="1.1" />
<text x="514.4" y="522.2" font-size="8.1" text-anchor="middle" font-weight="bold" fill="#141414" >5</text>
<circle cx="478.06" cy="510.55" r="2.55" fill="#141414"/>
<circle cx="402.39" cy="508.73" r="2.55" fill="#141414"/>
<circle cx="389.18" cy="506.52" r="2.55" fill="#141414"/>
<circle cx="408.34" cy="503.67" r="2.55" fill="#141414"/>
<circle cx="387.2" cy="489.17" r="2.55" fill="#141414"/>
<circle cx="451.29" cy="486.85" r="2.55" fill="#141414"/>
<circle cx="383.56" cy="479.2" r="2.55" fill="#141414"/>
<circle cx="372" cy="475.48" r="2.55" fill="#141414"/>
<circle cx="358.78" cy="459.98" r="2.55" fill="#141414"/>
<circle cx="362.42" cy="453.38" r="2.55" fill="#141414"/>
<circle cx="359.77" cy="408.14" r="2.55" fill="#141414"/>
<text x="417.6" y="410.2" font-size="9.15" text-anchor="start" font-weight="normal" fill="#141414" class="lg">Spearman r = -0.8545</text>
<text x="436.5" y="419.8" font-size="9.0" text-anchor="start" font-weight="normal" fill="#141414" class="lg">P value = 0.0015</text>
<text x="428.8" y="534.8" font-size="10.05" text-anchor="middle" font-weight="normal" fill="#141414" class="ax"><tspan font-style="italic">BCL-2</tspan> mRNA expression</text>
<text transform="translate(318.6 453.35) rotate(-90)" font-size="10.15" text-anchor="middle" font-weight="normal" fill="#141414" class="ax">IC<tspan font-size="6" dy="2">50</tspan><tspan dy="-2"> ABT-199 (nM)</tspan></text>
</g>
<g id="panelF">
<text x="306.4" y="593.3" font-size="17.2" text-anchor="start" font-weight="bold" fill="#141414" class="pl">F</text>
<line x1="349.2" y1="594.9" x2="349.2" y2="705.7" stroke="#141414" stroke-width="1.2" />
<line x1="348.6" y1="705.1" x2="515" y2="705.1" stroke="#141414" stroke-width="1.2" />
<line x1="346.4" y1="705.1" x2="349.2" y2="705.1" stroke="#141414" stroke-width="1.1" />
<text x="344.6" y="707.9" font-size="8.1" text-anchor="end" font-weight="bold" fill="#141414" >0</text>
<line x1="346.4" y1="683.18" x2="349.2" y2="683.18" stroke="#141414" stroke-width="1.1" />
<text x="344.6" y="685.98" font-size="8.1" text-anchor="end" font-weight="bold" fill="#141414" >2000</text>
<line x1="346.4" y1="661.26" x2="349.2" y2="661.26" stroke="#141414" stroke-width="1.1" />
<text x="344.6" y="664.06" font-size="8.1" text-anchor="end" font-weight="bold" fill="#141414" >4000</text>
<line x1="346.4" y1="639.34" x2="349.2" y2="639.34" stroke="#141414" stroke-width="1.1" />
<text x="344.6" y="642.14" font-size="8.1" text-anchor="end" font-weight="bold" fill="#141414" >6000</text>
<line x1="346.4" y1="617.42" x2="349.2" y2="617.42" stroke="#141414" stroke-width="1.1" />
<text x="344.6" y="620.22" font-size="8.1" text-anchor="end" font-weight="bold" fill="#141414" >8000</text>
<line x1="346.4" y1="595.5" x2="349.2" y2="595.5" stroke="#141414" stroke-width="1.1" />
<text x="344.6" y="598.3" font-size="8.1" text-anchor="end" font-weight="bold" fill="#141414" >10000</text>
<line x1="349.2" y1="705.1" x2="349.2" y2="708.4" stroke="#141414" stroke-width="1.1" />
<text x="349.2" y="716.6" font-size="8.1" text-anchor="middle" font-weight="bold" fill="#141414" >0</text>
<line x1="404.27" y1="705.1" x2="404.27" y2="708.4" stroke="#141414" stroke-width="1.1" />
<text x="404.27" y="716.6" font-size="8.1" text-anchor="middle" font-weight="bold" fill="#141414" >0.5</text>
<line x1="459.33" y1="705.1" x2="459.33" y2="708.4" stroke="#141414" stroke-width="1.1" />
<text x="459.33" y="716.6" font-size="8.1" text-anchor="middle" font-weight="bold" fill="#141414" >1</text>
<line x1="514.4" y1="705.1" x2="514.4" y2="708.4" stroke="#141414" stroke-width="1.1" />
<text x="514.4" y="716.6" font-size="8.1" text-anchor="middle" font-weight="bold" fill="#141414" >1.5</text>
<circle cx="458.23" cy="704.95" r="2.55" fill="#141414"/>
<circle cx="485.77" cy="703.12" r="2.55" fill="#141414"/>
<circle cx="384.44" cy="700.91" r="2.55" fill="#141414"/>
<circle cx="463.74" cy="698.05" r="2.55" fill="#141414"/>
<circle cx="387.75" cy="683.51" r="2.55" fill="#141414"/>
<circle cx="473.65" cy="681.18" r="2.55" fill="#141414"/>
<circle cx="404.27" cy="673.51" r="2.55" fill="#141414"/>
<circle cx="397.66" cy="669.78" r="2.55" fill="#141414"/>
<circle cx="370.13" cy="654.24" r="2.55" fill="#141414"/>
<circle cx="356.91" cy="647.62" r="2.55" fill="#141414"/>
<circle cx="363.52" cy="602.26" r="2.55" fill="#141414"/>
<text x="414" y="606.9" font-size="9.15" text-anchor="start" font-weight="normal" fill="#141414" class="lg">Spearman r = -0.7000</text>
<text x="431.3" y="617.9" font-size="9.0" text-anchor="start" font-weight="normal" fill="#141414" class="lg">P value = 0.0204</text>
<text x="425.9" y="731.3" font-size="10.25" text-anchor="middle" font-weight="normal" fill="#141414" class="ax">BCL-2 protein expression</text>
<text transform="translate(318.6 647.6) rotate(-90)" font-size="10.15" text-anchor="middle" font-weight="normal" fill="#141414" class="ax">IC<tspan font-size="6" dy="2">50</tspan><tspan dy="-2"> ABT-199 (nM)</tspan></text>
</g>
<g id="panelE">
<text x="-1.8" y="593.3" font-size="17.2" text-anchor="start" font-weight="bold" fill="#141414" class="pl">E</text>
<rect x="69.7" y="636.9" width="211.1" height="19.8" fill="#d6d6d6"/>
<rect x="69.7" y="662.6" width="211.1" height="18.6" fill="#c8c8c8"/>
<rect x="69.7" y="686.3" width="211.1" height="12.6" fill="#dadada"/>
<g filter="url(#blur)">
<rect x="72.75" y="643.3" width="17.2" height="4.4" rx="1.8" fill="#0d0d0d" opacity="0.97" transform="rotate(2 81.35 645.5)"/>
<rect x="91.55" y="644.4" width="17.2" height="4.4" rx="1.8" fill="#0d0d0d" opacity="0.95" transform="rotate(2 100.15 646.6)"/>
<rect x="111.35" y="646.2" width="15.2" height="3.2" rx="1.6" fill="#0d0d0d" opacity="0.85" transform="rotate(1 118.95 647.8)"/>
<rect x="129.15" y="645.4" width="17.2" height="4.8" rx="1.8" fill="#0d0d0d" opacity="0.97"/>
<rect x="150.05" y="647" width="13" height="2" rx="1" fill="#0d0d0d" opacity="0.45"/>
<rect x="167.55" y="646.4" width="15.6" height="2.4" rx="1.2" fill="#0d0d0d" opacity="0.55" transform="rotate(-2 175.35 647.6)"/>
<rect x="187.15" y="645.8" width="14" height="2.8" rx="1.4" fill="#0d0d0d" opacity="0.8" transform="rotate(-4 194.15 647.2)"/>
<rect x="205.45" y="646" width="15" height="1.6" rx="0.8" fill="#0d0d0d" opacity="0.22" transform="rotate(-2 212.95 646.8)"/>
<rect x="224.75" y="644.6" width="14" height="3.2" rx="1.6" fill="#0d0d0d" opacity="0.85" transform="rotate(-3 231.75 646.2)"/>
<rect x="243.05" y="644.8" width="15" height="1.8" rx="0.9" fill="#0d0d0d" opacity="0.38" transform="rotate(-3 250.55 645.7)"/>
<rect x="261.95" y="643.7" width="14.8" height="1.8" rx="0.9" fill="#0d0d0d" opacity="0.38" transform="rotate(-6 269.35 644.6)"/>
<rect x="73.35" y="667.4" width="16" height="2.2" rx="1.1" fill="#0d0d0d" opacity="0.05"/>
<rect x="73.15" y="671.6" width="16.4" height="3" rx="1.5" fill="#0d0d0d" opacity="0.05"/>
<rect x="92.15" y="667.1" width="16" height="2.2" rx="1.1" fill="#0d0d0d" opacity="0.29"/>
<rect x="91.95" y="671.3" width="16.4" height="3" rx="1.5" fill="#0d0d0d" opacity="0.45"/>
<rect x="110.95" y="668" width="16" height="2.2" rx="1.1" fill="#0d0d0d" opacity="0.45"/>
<rect x="110.75" y="672.2" width="16.4" height="3" rx="1.5" fill="#0d0d0d" opacity="0.7"/>
<rect x="129.75" y="668.6" width="16" height="2.2" rx="1.1" fill="#0d0d0d" opacity="0.64"/>
<rect x="129.55" y="672.4" width="16.4" height="3.8" rx="1.8" fill="#0d0d0d" opacity="0.97"/>
<rect x="148.55" y="669.5" width="16" height="2.2" rx="1.1" fill="#0d0d0d" opacity="0.32"/>
<rect x="148.35" y="673.7" width="16.4" height="3" rx="1.5" fill="#0d0d0d" opacity="0.6"/>
<rect x="167.35" y="669.7" width="16" height="2.2" rx="1.1" fill="#0d0d0d" opacity="0.34"/>
<rect x="167.15" y="673.9" width="16.4" height="3" rx="1.5" fill="#0d0d0d" opacity="0.88"/>
<rect x="186.15" y="669.7" width="16" height="2.2" rx="1.1" fill="#0d0d0d" opacity="0.22"/>
<rect x="185.95" y="673.9" width="16.4" height="3" rx="1.5" fill="#0d0d0d" opacity="0.55"/>
<rect x="204.95" y="669.5" width="16" height="2.2" rx="1.1" fill="#0d0d0d" opacity="0.21"/>
<rect x="204.75" y="673.7" width="16.4" height="3" rx="1.5" fill="#0d0d0d" opacity="0.5"/>
<rect x="223.75" y="669.5" width="16" height="2.2" rx="1.1" fill="#0d0d0d" opacity="0.26"/>
<rect x="223.55" y="673.7" width="16.4" height="3" rx="1.5" fill="#0d0d0d" opacity="0.55"/>
<rect x="242.55" y="669.2" width="16" height="2.2" rx="1.1" fill="#0d0d0d" opacity="0.22"/>
<rect x="242.35" y="673.4" width="16.4" height="3" rx="1.5" fill="#0d0d0d" opacity="0.55"/>
<rect x="261.35" y="668.9" width="16" height="2.2" rx="1.1" fill="#0d0d0d" opacity="0.22"/>
<rect x="261.15" y="673.1" width="16.4" height="3" rx="1.5" fill="#0d0d0d" opacity="0.6"/>
<rect x="224.75" y="664.75" width="14" height="3.5" rx="1.75" fill="#0d0d0d" opacity="0.12"/>
<rect x="72.25" y="690.55" width="18.2" height="3.5" rx="1.75" fill="#0d0d0d" opacity="1"/>
<rect x="91.05" y="690.55" width="18.2" height="3.5" rx="1.75" fill="#0d0d0d" opacity="1"/>
<rect x="109.85" y="690.55" width="18.2" height="3.5" rx="1.75" fill="#0d0d0d" opacity="1"/>
<rect x="128.65" y="690.55" width="18.2" height="3.5" rx="1.75" fill="#0d0d0d" opacity="1"/>
<rect x="147.45" y="690.55" width="18.2" height="3.5" rx="1.75" fill="#0d0d0d" opacity="1"/>
<rect x="166.25" y="690.55" width="18.2" height="3.5" rx="1.75" fill="#0d0d0d" opacity="1"/>
<rect x="185.05" y="691.05" width="18.2" height="3.5" rx="1.75" fill="#0d0d0d" opacity="1"/>
<rect x="203.85" y="691.05" width="18.2" height="3.5" rx="1.75" fill="#0d0d0d" opacity="1"/>
<rect x="222.65" y="690.5" width="18.2" height="4.6" rx="1.8" fill="#0d0d0d" opacity="1"/>
<rect x="241.45" y="691.05" width="18.2" height="3.5" rx="1.75" fill="#0d0d0d" opacity="1"/>
<rect x="260.25" y="691.05" width="18.2" height="3.5" rx="1.75" fill="#0d0d0d" opacity="1"/>
</g><g filter="url(#blur2)">
<rect x="72.35" y="666.55" width="18" height="8.5" rx="1.8" fill="#0d0d0d" opacity="0.03"/>
<rect x="91.15" y="666.25" width="18" height="8.5" rx="1.8" fill="#0d0d0d" opacity="0.18"/>
<rect x="109.95" y="667.15" width="18" height="8.5" rx="1.8" fill="#0d0d0d" opacity="0.29"/>
<rect x="128.75" y="667.75" width="18" height="8.5" rx="1.8" fill="#0d0d0d" opacity="0.4"/>
<rect x="147.55" y="668.65" width="18" height="8.5" rx="1.8" fill="#0d0d0d" opacity="0.22"/>
<rect x="166.35" y="668.85" width="18" height="8.5" rx="1.8" fill="#0d0d0d" opacity="0.29"/>
<rect x="185.15" y="668.85" width="18" height="8.5" rx="1.8" fill="#0d0d0d" opacity="0.19"/>
<rect x="203.95" y="668.65" width="18" height="8.5" rx="1.8" fill="#0d0d0d" opacity="0.17"/>
<rect x="222.75" y="668.65" width="18" height="8.5" rx="1.8" fill="#0d0d0d" opacity="0.2"/>
<rect x="241.55" y="668.35" width="18" height="8.5" rx="1.8" fill="#0d0d0d" opacity="0.19"/>
<rect x="260.35" y="668.05" width="18" height="8.5" rx="1.8" fill="#0d0d0d" opacity="0.2"/>
</g>
<text transform="translate(81.7 629.5) rotate(-45)" font-size="7.9" text-anchor="start" font-weight="bold" fill="#141414" class="rb">LOUCY</text>
<text x="80.8" y="711.9" font-size="8.5" text-anchor="middle" font-weight="normal" fill="#141414" class="lg">0.99</text>
<text transform="translate(101.3 629.5) rotate(-45)" font-size="7.9" text-anchor="start" font-weight="bold" fill="#141414" class="rb">ALL-SIL</text>
<text x="100.4" y="711.9" font-size="8.5" text-anchor="middle" font-weight="normal" fill="#141414" class="lg">1.24</text>
<text transform="translate(120.9 629.5) rotate(-45)" font-size="7.9" text-anchor="start" font-weight="bold" fill="#141414" class="rb">TALL-1</text>
<text x="120" y="711.9" font-size="8.5" text-anchor="middle" font-weight="normal" fill="#141414" class="lg">1.04</text>
<text transform="translate(139.4 629.5) rotate(-45)" font-size="7.9" text-anchor="start" font-weight="bold" fill="#141414" class="rb">DND-41</text>
<text x="139.7" y="711.9" font-size="8.5" text-anchor="middle" font-weight="normal" fill="#141414" class="lg">1.13</text>
<text transform="translate(158.6 629.5) rotate(-45)" font-size="7.9" text-anchor="start" font-weight="bold" fill="#141414" class="rb">CUTTL1</text>
<text x="159.2" y="711.9" font-size="8.5" text-anchor="middle" font-weight="normal" fill="#141414" class="lg">0.32</text>
<text transform="translate(177 629.5) rotate(-45)" font-size="7.9" text-anchor="start" font-weight="bold" fill="#141414" class="rb">KOPTK1</text>
<text x="178" y="711.9" font-size="8.5" text-anchor="middle" font-weight="normal" fill="#141414" class="lg">0.35</text>
<text transform="translate(196.3 629.5) rotate(-45)" font-size="7.9" text-anchor="start" font-weight="bold" fill="#141414" class="rb">PF-382</text>
<text x="196.8" y="711.9" font-size="8.5" text-anchor="middle" font-weight="normal" fill="#141414" class="lg">0.50</text>
<text transform="translate(213.6 629.5) rotate(-45)" font-size="7.9" text-anchor="start" font-weight="bold" fill="#141414" class="rb">JURKAT</text>
<text x="215.5" y="711.9" font-size="8.5" text-anchor="middle" font-weight="normal" fill="#141414" class="lg">0.07</text>
<text transform="translate(233.2 629.5) rotate(-45)" font-size="7.9" text-anchor="start" font-weight="bold" fill="#141414" class="rb">KARPAS-45</text>
<text x="234.6" y="711.9" font-size="8.5" text-anchor="middle" font-weight="normal" fill="#141414" class="lg">0.44</text>
<text transform="translate(251.6 629.5) rotate(-45)" font-size="7.9" text-anchor="start" font-weight="bold" fill="#141414" class="rb">PEER</text>
<text x="253" y="711.9" font-size="8.5" text-anchor="middle" font-weight="normal" fill="#141414" class="lg">0.19</text>
<text transform="translate(270.1 629.5) rotate(-45)" font-size="7.9" text-anchor="start" font-weight="bold" fill="#141414" class="rb">CCRF-CEM</text>
<text x="271.5" y="711.9" font-size="8.5" text-anchor="middle" font-weight="normal" fill="#141414" class="lg">0.13</text>
<text x="1.5" y="650.7" font-size="9.1" text-anchor="start" font-weight="normal" fill="#141414" class="lg">BCL-2 (26 kDa)</text>
<text x="1.5" y="674.6" font-size="9.1" text-anchor="start" font-weight="normal" fill="#141414" class="lg">BCL-X<tspan font-size="5.8" dy="2">L</tspan><tspan dy="-2"> (30 kDa)</tspan></text>
<text x="-0.6" y="693.9" font-size="9.1" text-anchor="start" font-weight="normal" fill="#141414" class="lg">ß- actin (42 kDa)</text>
<text x="3.9" y="711.9" font-size="8.3" text-anchor="start" font-weight="normal" fill="#141414" class="lg">BCL-2/ß- actin</text>
</g>
</svg></body></html>
